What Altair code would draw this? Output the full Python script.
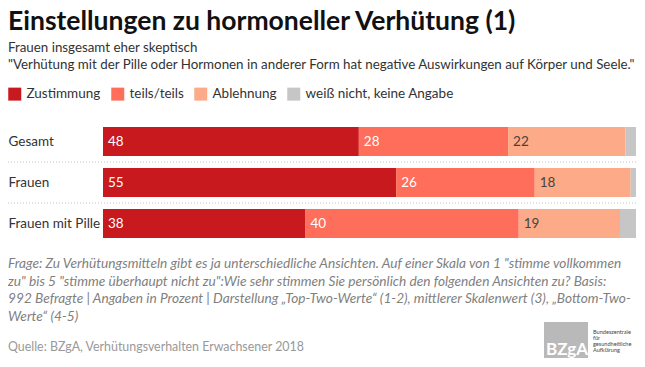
import altair as alt
import pandas as pd

categories = ["Gesamt", "Frauen", "Frauen mit Pille"]
answers = ["Zustimmung", "teils/teils", "Ablehnung", "weiß nicht, keine Angabe"]
zustimmung = [48, 55, 38]
teils = [28, 26, 40]
ablehnung = [22, 18, 19]
weiss_nicht = [2, 1, 3]
colors = ["#c8191e", "#ff6e5a", "#fdaa88", "#c6c6c6"]

title_text = "Einstellungen zu hormoneller Verhütung (1)"
subtitle_lines = [
    "Frauen insgesamt eher skeptisch",
    "\"Verhütung mit der Pille oder Hormonen in anderer Form hat negative Auswirkungen auf Körper und Seele.\"",
]
footer_lines = [
    "Frage: Zu Verhütungsmitteln gibt es ja unterschiedliche Ansichten. Auf einer Skala von 1 \"stimme vollkommen",
    "zu\" bis 5 \"stimme überhaupt nicht zu\":Wie sehr stimmen Sie persönlich den folgenden Ansichten zu? Basis:",
    "992 Befragte | Angaben in Prozent | Darstellung „Top-Two-Werte“ (1-2), mittlerer Skalenwert (3), „Bottom-Two-",
    "Werte“ (4-5)",
]
source_text = "Quelle: BZgA, Verhütungsverhalten Erwachsener 2018"
logo_word = "BZgA"
logo_lines = ["Bundeszentrale", "für", "gesundheitliche", "Aufklärung"]

series = [zustimmung, teils, ablehnung, weiss_nicht]
rows = []
for i, c in enumerate(categories):
    for j, a in enumerate(answers):
        v = series[j][i]
        rows.append({"cat": c, "answer": a, "order": j, "value": v,
                     "label": str(v) if j < 3 else ""})
df = pd.DataFrame(rows)

W, H = 533, 123
PL, PT, PR, PB = 95, 113, 1, 115
FONT = "Lato"

yscale = alt.Scale(paddingInner=12 / 41, paddingOuter=6 / 41)
y_axis = alt.Y(
    "cat:N", sort=categories, scale=yscale,
    axis=alt.Axis(title=None, labelAlign="left", labelPadding=PL, ticks=False,
                  tickSize=0, domain=False, grid=False, labelFont=FONT,
                  labelFontSize=13.5, labelColor="#333", labelBaseline="middle"),
)
y_plain = alt.Y("cat:N", sort=categories, scale=yscale)

base = alt.Chart(df).transform_stack(
    stack="value", groupby=["cat"], as_=["x0", "x1"], sort=[alt.SortField("order")]
)

bars = base.mark_bar(strokeWidth=0).encode(
    x=alt.X("x0:Q", scale=alt.Scale(domain=[0, 100], nice=False, zero=True), axis=None),
    x2="x1:Q",
    y=y_axis,
    color=alt.Color(
        "answer:N",
        scale=alt.Scale(domain=answers, range=colors),
        legend=alt.Legend(
            orient="none", legendX=-PL, legendY=-34, direction="horizontal",
            title=None, symbolType="square", symbolSize=169, symbolStrokeWidth=0,
            symbolOpacity=1, labelFont=FONT, labelFontSize=13.5, labelColor="#333",
            columnPadding=10, labelOffset=5, labelLimit=300,
        ),
    ),
    order=alt.Order("order:Q"),
)

labels = base.transform_filter(alt.datum.order < 3).mark_text(
    align="left", baseline="middle", dx=5, font=FONT, fontSize=13.5
).encode(
    x="x0:Q",
    y=y_plain,
    text="label:N",
    color=alt.condition(alt.datum.order == 2, alt.value("#444"), alt.value("white")),
)

seps = alt.Chart(pd.DataFrame({"cat": categories[1:]})).mark_rule(
    strokeDash=[1, 2], color="#c4c4c4", strokeWidth=1, yOffset=-20.5
).encode(y=y_plain, x=alt.value(-PL), x2=alt.value(W + PR))


def txt(s, x, y, **kw):
    return alt.Chart(pd.DataFrame({"t": [s]})).mark_text(
        align="left", baseline="alphabetic", **kw
    ).encode(x=alt.value(x), y=alt.value(y), text="t:N")


layers = [bars, labels, seps]
layers.append(txt(title_text, -PL, -91.5, font=FONT, fontSize=26.5, fontWeight="bold", color="#111"))
layers.append(txt(subtitle_lines[0], -PL, -69.5, font=FONT, fontSize=13.35, color="#333"))
layers.append(txt(subtitle_lines[1], -PL, -52.5, font=FONT, fontSize=13.35, color="#333"))
for k, line in enumerate(footer_lines):
    layers.append(txt(line, -PL, 147 + k * 17.5, font=FONT, fontSize=13.7, fontStyle="italic", color="#7f7f7f"))
layers.append(txt(source_text, -PL, 230, font=FONT, fontSize=12.4, color="#999"))

logo = alt.Chart(pd.DataFrame({"t": [logo_word]})).mark_rect(color="#b9b9b9").encode(
    x=alt.value(441), x2=alt.value(485), y=alt.value(201), y2=alt.value(237)
)
layers.append(logo)
layers.append(txt(logo_word, 443, 234, font=FONT, fontSize=17, fontWeight="bold", color="white"))
for k, line in enumerate(logo_lines):
    layers.append(txt(line, 490, 213 + k * 6, font=FONT, fontSize=5.6, color="#444"))

chart = alt.layer(*layers).properties(
    width=W, height=H,
    autosize=alt.AutoSizeParams(type="none"),
    padding={"left": PL, "top": PT, "right": PR, "bottom": PB},
).configure_view(stroke=None)

chart.save("out.html", embed_options={"renderer": "svg", "actions": False})
